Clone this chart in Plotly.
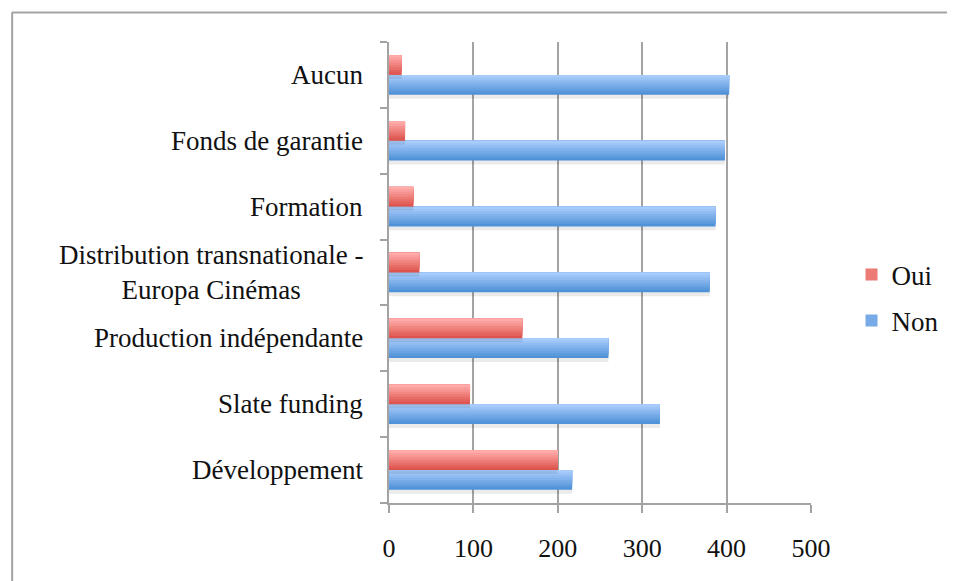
import plotly.graph_objects as go

# categories listed bottom -> top
categories = [
    "Développement",
    "Slate funding",
    "Production indépendante",
    "Distribution transnationale -<br>Europa Cinémas",
    "Formation",
    "Fonds de garantie",
    "Aucun",
]
oui = [200, 96, 158, 36, 29, 19, 15]
non = [217, 321, 260, 380, 387, 398, 403]
x_ticks = [0, 100, 200, 300, 400, 500]

FONT = "Liberation Serif"
GRID = "#a3a3a3"
BAR_W = 0.30    # thickness of one bar in category units
N_LAYERS = 8    # layers used to fake the vertical gradient


def mix(c1, c2, t):
    return "rgb({},{},{})".format(*[round(a + (b - a) * t) for a, b in zip(c1, c2)])


def add_gradient_bars(fig, values, name, top, bottom, base_offset, rank):
    # soft shadow under the bar
    fig.add_trace(go.Bar(
        y=categories, x=values, orientation="h",
        width=0.07, offset=base_offset - 0.06,
        marker=dict(color="rgba(0,0,0,0.08)", line_width=0),
        showlegend=False, hoverinfo="skip",
    ))
    for k in range(N_LAYERS):
        frac = k / N_LAYERS
        h = BAR_W * (1 - frac)
        fig.add_trace(go.Bar(
            y=categories, x=values, orientation="h",
            width=h, offset=base_offset + BAR_W - h,
            marker=dict(color=mix(bottom, top, k / (N_LAYERS - 1)), line_width=0),
            name=name, legendgroup=name, legendrank=rank, showlegend=(k == 3),
            hoverinfo="skip" if k else None,
        ))


fig = go.Figure()
add_gradient_bars(fig, non, "Non", (168, 204, 252), (80, 146, 216), -BAR_W, 2)
add_gradient_bars(fig, oui, "Oui", (255, 172, 170), (222, 84, 78), 0.0, 1)

# category labels as annotations so the two-line label stays centred
for cat in categories:
    fig.add_annotation(
        x=0, xref="paper", y=cat, yref="y", text=cat,
        xanchor="right", yanchor="middle", align="center", xshift=-24,
        showarrow=False, font=dict(family=FONT, size=27, color="#111111"),
    )

# frame lines (top and left only)
fig.add_shape(type="line", xref="paper", yref="paper", x0=-0.894, x1=1.5, y0=1.064, y1=1.064,
              line=dict(color="#a3a3a3", width=2))
fig.add_shape(type="line", xref="paper", yref="paper", x0=-0.893, x1=-0.893, y0=1.064, y1=-0.3,
              line=dict(color="#a3a3a3", width=2))

# page body has an 8px margin, so the figure is shrunk and margins shifted
fig.update_layout(
    width=947, height=573,
    margin=dict(l=381, r=137, t=34, b=78),
    barmode="overlay",
    plot_bgcolor="white", paper_bgcolor="white",
    font=dict(family=FONT, size=26, color="#111111"),
    legend=dict(
        x=1.096, y=0.445, xanchor="left", yanchor="middle",
        traceorder="grouped", tracegroupgap=8,
        font=dict(family=FONT, size=27, color="#111111"),
        bgcolor="rgba(0,0,0,0)",
    ),
    xaxis=dict(
        range=[0, 500], tickvals=x_ticks, ticktext=[str(v) for v in x_ticks],
        showgrid=True, gridcolor=GRID, gridwidth=2,
        showline=True, linecolor=GRID, linewidth=2,
        ticks="outside", ticklen=8, tickcolor=GRID, tickwidth=2,
        ticklabelstandoff=13, zeroline=False,
    ),
    yaxis=dict(
        type="category", categoryorder="array", categoryarray=categories,
        range=[-0.5, 6.5], showticklabels=False,
        showline=True, linecolor=GRID, linewidth=2,
        ticks="outside", tickson="boundaries", ticklen=7, tickcolor=GRID, tickwidth=2,
        showgrid=False, zeroline=False,
    ),
)

fig.write_html("out.html")
